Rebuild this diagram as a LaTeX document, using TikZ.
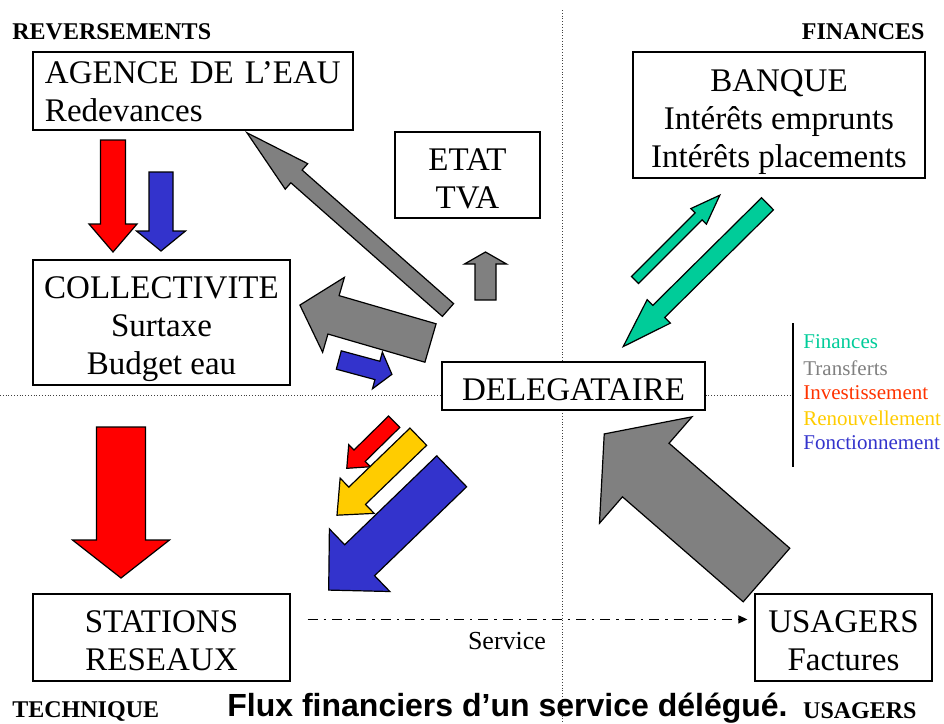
\documentclass[tikz,border=0pt]{standalone}
\usepackage{fontspec}
\setmainfont{Liberation Serif}
\newfontfamily\titlefont{Liberation Sans}
\usetikzlibrary{arrows.meta}

\definecolor{finvert}{RGB}{0,204,153}
\definecolor{transgris}{RGB}{128,128,128}
\definecolor{investrouge}{RGB}{255,0,0}
\definecolor{investtexte}{RGB}{255,51,0}
\definecolor{renjaune}{RGB}{255,204,0}
\definecolor{fonctbleu}{RGB}{51,51,204}

\tikzset{
  box/.style={draw, fill=white, line width=0.6pt, align=center, inner sep=0pt,
    text depth=0pt, font=\fontsize{16.5}{19}\selectfont},
  header/.style={inner sep=0pt, font=\bfseries\fontsize{12}{14}\selectfont},
  legende/.style={anchor=west, inner sep=0pt, font=\fontsize{10.5}{12}\selectfont},
  quadrant/.style={densely dotted, line width=0.4pt, black!75}
}

% block arrow: colour, tail x, tail y, angle, length, shaft, head width, head length
\newcommand{\flowarrow}[8]{%
  \begin{scope}[shift={(#2,#3)},rotate=#4]
    \filldraw[fill=#1, draw=black, line width=0.6pt]
      (0,-#6/2) -- (#5-#8,-#6/2) -- (#5-#8,-#7/2) -- (#5,0)
      -- (#5-#8,#7/2) -- (#5-#8,#6/2) -- (0,#6/2) -- cycle;
  \end{scope}}

\begin{document}
\begin{tikzpicture}[x=0.5pt,y=-0.5pt]
\useasboundingbox (0,0) rectangle (944,724);

% quadrants
\draw[quadrant] (562,10) -- (562,724);
\draw[quadrant] (0,395) -- (790,395);

% flows
\flowarrow{investrouge}{113}{140}{-90}{112}{25}{48}{28}
\flowarrow{fonctbleu}{161}{172}{-90}{79}{24}{49}{20}
\flowarrow{investrouge}{121}{427}{-90}{151}{49}{97}{38}
\flowarrow{transgris}{485.5}{300}{90}{48}{21}{42}{12}
\flowarrow{transgris}{448}{310}{138.6}{268}{17}{34}{66}
\flowarrow{transgris}{430.5}{343}{163.8}{136}{40}{78}{35}
\flowarrow{fonctbleu}{338.8}{360}{-15.1}{55}{19}{38}{15}
\flowarrow{investrouge}{394.2}{421.7}{-135.5}{66.5}{16}{31}{18}
\flowarrow{renjaune}{418.3}{436.7}{-136}{113}{24}{49}{28}
\flowarrow{fonctbleu}{451.7}{471.3}{-136}{171}{43}{87}{43}
\flowarrow{finvert}{635}{280}{45}{120}{10}{22}{30}
\flowarrow{finvert}{767.5}{203.8}{-135.3}{203}{17}{33}{50}
\flowarrow{transgris}{766.5}{575}{139}{215}{71}{141}{55}

% actors
\node[box, minimum width=160pt, minimum height=39pt, text height=11.5pt, text depth=19pt, text width=148pt, align=left] (agence) at (193,91) {AGENCE DE L’EAU\\Redevances};
\node[box, minimum width=72.5pt, minimum height=43pt, text height=33pt] (etat) at (467.5,175) {ETAT\\TVA};
\node[box, minimum width=146pt, minimum height=63pt, text height=52pt] (banque) at (779,115) {BANQUE\\Intérêts emprunts\\Intérêts placements};
\node[box, minimum width=128.5pt, minimum height=62.5pt, text height=52pt] (collectivite) at (161.5,322.5) {COLLECTIVITE\\Surtaxe\\Budget eau};
\node[box, minimum width=131.5pt, minimum height=24pt, text height=14pt] (delegataire) at (573.5,386) {DELEGATAIRE};
\node[box, minimum width=128.5pt, minimum height=43.5pt, text height=33pt] (stations) at (161.5,637.5) {STATIONS\\RESEAUX};
\node[box, minimum width=88.5pt, minimum height=43.5pt, text height=33pt] (usagers) at (843.5,637.5) {USAGERS\\Factures};

\draw[line width=0.6pt, dash pattern=on 5pt off 3pt on 1.2pt off 3pt, -{Triangle[length=4.5pt,width=4pt]}]
  ([xshift=8.5pt,yshift=-13pt]stations.north east) -- ([xshift=-3.5pt,yshift=-13pt]usagers.north west);
\node[inner sep=0pt, font=\fontsize{13}{15}\selectfont] (service) at (507,641) {Service};

% corners
\node[header, anchor=west] (reversements) at (12,32) {REVERSEMENTS};
\node[header, anchor=east] (finances) at (925,32) {FINANCES};
\node[header, anchor=west] (technique) at (12,711) {TECHNIQUE};
\node[header, anchor=east] (usagerstitre) at (917,711) {USAGERS};
\node[inner sep=0pt, font=\titlefont\bfseries\fontsize{16}{19}\selectfont] (titre) at (507.5,708) {Flux financiers d’un service délégué.};

% legend
\coordinate (barhaut) at (793,323);
\coordinate (barbas) at (793,467);
\draw[line width=0.8pt] (barhaut) -- (barbas);
\node[legende, text=finvert] (lfin) at (803,342) {Finances};
\node[legende, text=transgris] (ltrans) at (803,368) {Transferts};
\node[legende, text=investtexte] (linvest) at (803,393) {Investissement};
\node[legende, text=renjaune] (lrenouv) at (803,418) {Renouvellement};
\node[legende, text=fonctbleu] (lfonct) at (803,443) {Fonctionnement};
\end{tikzpicture}
\end{document}
